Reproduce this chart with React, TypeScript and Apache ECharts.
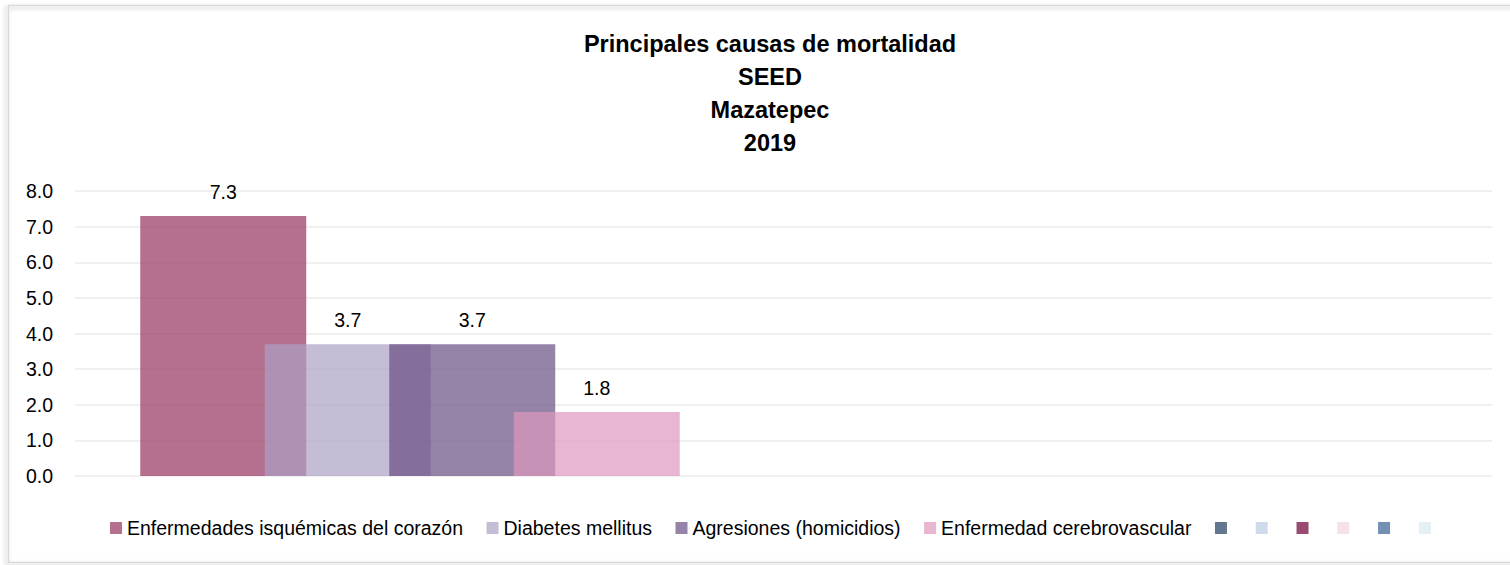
import React, { useEffect, useRef } from "react";
import * as echarts from "echarts";

const titleLines = ["Principales causas de mortalidad", "SEED", "Mazatepec", "2019"];
const categories = ["2019"];
const seriesNames = [
  "Enfermedades isquémicas del corazón",
  "Diabetes mellitus",
  "Agresiones (homicidios)",
  "Enfermedad cerebrovascular",
  "Serie 5",
  "Serie 6",
  "Serie 7",
  "Serie 8",
  "Serie 9",
  "Serie 10",
];
const legendLabels = [
  "Enfermedades isquémicas del corazón",
  "Diabetes mellitus",
  "Agresiones (homicidios)",
  "Enfermedad cerebrovascular",
  " ",
  " ",
  " ",
  " ",
  " ",
  " ",
];
const seriesValues: (number | null)[] = [7.3, 3.7, 3.7, 1.8, null, null, null, null, null, null];
const seriesColors = [
  "rgba(151,51,95,0.7)",
  "rgba(173,159,196,0.7)",
  "rgba(104,79,131,0.7)",
  "rgba(222,151,188,0.7)",
  "#627891",
  "#cfdbea",
  "#984a70",
  "#f4e1ea",
  "#7490b4",
  "#e4f0f5",
];
const yTicks = { min: 0, max: 8, interval: 1 };

const FONT = "'Liberation Sans', Arial, sans-serif";

export default function App() {
  const ref = useRef<HTMLDivElement>(null);
  useEffect(() => {
    if (!ref.current) return;
    const chart = echarts.init(ref.current, undefined, { renderer: "svg" });
    const option: any = {
      animation: false,
      backgroundColor: "#ffffff",
      title: {
        text: titleLines.join("\n"),
        left: 765,
        top: 22,
        textAlign: "center",
        textStyle: {
          fontFamily: FONT,
          fontWeight: "bold",
          fontSize: 23.5,
          lineHeight: 33,
          color: "#000000",
        },
      },
      legend: {
        data: seriesNames.map((n, i) =>
          legendLabels[i].trim() === "" ? { name: n, textStyle: { fontSize: 1 } } : n
        ),
        left: 105,
        top: 513,
        itemWidth: 12,
        itemHeight: 12,
        itemGap: 23.5,
        icon: "rect",
        formatter: (name: string) => legendLabels[seriesNames.indexOf(name)],
        textStyle: { fontFamily: FONT, fontSize: 19.5, color: "#000000" },
      },
      grid: { left: 75, right: 18, top: 191, bottom: 89, containLabel: false },
      xAxis: {
        type: "category",
        data: categories,
        axisLine: { show: false },
        axisTick: { show: false },
        axisLabel: { show: false },
      },
      yAxis: {
        type: "value",
        min: yTicks.min,
        max: yTicks.max,
        interval: yTicks.interval,
        axisLine: { show: false },
        axisTick: { show: false },
        splitLine: { lineStyle: { color: "#f0f0f0", width: 2 } },
        axisLabel: {
          margin: 22,
          fontFamily: FONT,
          fontSize: 19.5,
          color: "#000000",
          formatter: (v: number) => v.toFixed(1),
        },
      },
      graphic: [
        {
          type: "rect",
          shape: { x: 8.5, y: 5.5, width: 1530, height: 557 },
          style: {
            fill: "none",
            stroke: "#d9d9d9",
            lineWidth: 1.5,
            shadowBlur: 4,
            shadowColor: "rgba(0,0,0,0.25)",
            shadowOffsetX: -2,
            shadowOffsetY: 2,
          },
          silent: true,
          z: 100,
        },
      ],
      series: seriesNames.map((name, i) => ({
        name,
        type: "bar",
        data: [seriesValues[i]],
        barWidth: 166,
        barGap: "-25%",
        itemStyle: { color: seriesColors[i] },
        label: {
          show: seriesValues[i] !== null,
          position: "top",
          distance: 14,
          fontFamily: FONT,
          fontSize: 19.5,
          color: "#000000",
          formatter: (p: any) => Number(p.value).toFixed(1),
        },
      })),
    };
    chart.setOption(option);
    return () => chart.dispose();
  }, []);
  return (
    <div
      ref={ref}
      style={{ position: "fixed", left: 0, top: 0, width: 1510, height: 565 }}
    />
  );
}
